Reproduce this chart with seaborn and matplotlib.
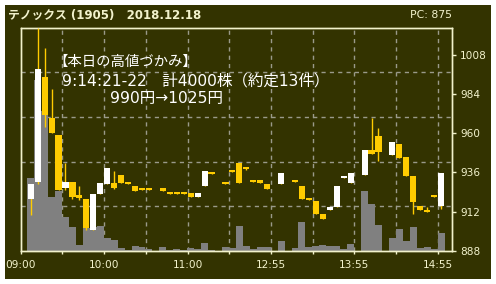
import numpy as np
import matplotlib
matplotlib.use("Agg")
import matplotlib.pyplot as plt
from matplotlib.patches import Rectangle
import seaborn as sns

# ---------------- data ----------------
title_text = "テノックス (1905)   2018.12.18"
pc_text = "PC: 875"
note_lines = ["【本日の高値づかみ】", "9:14:21-22　計4000株（約定13件）", "990円→1025円"]

slots = list(range(60))
nan = np.nan
opens = [920, 930, 994, 969, 959, 926.5, 930, 922, 920, 901,
         923, 929, 929.5, 934.4, 930.3, 927.7, 926.6, 926.6, nan, 926.7,
         924.2, 924.2, 924.2, 923.4, 921.2, 928, 936.3, nan, 930.3, 937.3,
         941.8, 939.4, 931.5, 931.5, 929, nan, 929.1, nan, 931.5, 927.7,
         920.6, 918.5, 910.7, 913.2, 915, 932.6, 929.7, nan, 934.4, 949.7,
         958.2, nan, 946.8, 953.3, 945.6, 933.8, 915.5, 913.2, 922.2, 915.5]
closes = [929, 999, 971, 960, 925, 930, 921, 920.5, 902, 923,
          929.5, 939, 926.5, 929.7, 929, 924.8, 925.4, 925.4, nan, 924.8,
          923, 923, 923, 921.2, 923.4, 937, 935.2, nan, 929.1, 936.2,
          929.7, 938.3, 930.3, 929.7, 926, nan, 935.8, nan, 929.9, 920,
          919.3, 910.8, 907.7, 915, 927.7, 933.6, 935.6, nan, 949.7, 947.4,
          948.6, nan, 954.6, 945, 933.8, 918.1, 913.2, 912, 921.2, 935.6]
highs = [929, 1024, 1012, 987, 959, 942, 930, 928, 920, 923,
         929.5, 939, 937, 934.4, 930.3, 927.7, 926.6, 926.6, nan, 926.7,
         924.2, 924.2, 924.2, 923.4, 923.4, 937, 936.3, nan, 930.3, 937.3,
         941.8, 939.4, 931.5, 931.5, 929, nan, 935.8, nan, 931.5, 927.7,
         920.6, 918.5, 910.7, 915, 927.7, 933.6, 935.6, nan, 949.7, 969,
         963, nan, 954.6, 953.3, 945.6, 933.8, 915.5, 915, 922.2, 935.6]
lows = [910, 929, 964, 960, 925, 925, 920, 919, 901, 901,
        923, 929, 925.7, 929.7, 929, 924.8, 925.4, 925.4, nan, 924.8,
        923, 923, 923, 921.2, 921.2, 928, 935.2, nan, 929.1, 936.2,
        929.7, 937.5, 930.3, 929.7, 926, nan, 929.1, nan, 929.9, 920,
        919.3, 910.8, 907.7, 913.2, 915, 932.6, 929.7, nan, 934.4, 947.4,
        942.8, nan, 946.8, 945, 933.8, 910.8, 913.2, 912, 921.2, 913.8]
volume = [7300, 17100, 14000, 5400, 6000, 3400, 2400, 600, 2300, 2400,
          2500, 1300, 1100, 330, 100, 500, 400, 200, 0, 400,
          130, 200, 130, 300, 170, 800, 100, 0, 400, 300,
          2500, 500, 230, 400, 400, 0, 1000, 0, 300, 2900,
          400, 500, 600, 500, 500, 200, 700, 0, 6000, 4700,
          2600, 0, 1300, 2200, 1000, 2400, 300, 400, 200, 1800]

price_ticks = [888, 912, 936, 960, 984, 1008]
time_labels = ["09:00", "", "10:00", "", "11:00", "", "12:55", "", "13:55", "", "14:55"]

# ---------------- style ----------------
BG = "#333300"
CREAM = "#f2f2cc"
UP = "#ffffff"
DOWN = "#ffcc00"
VOL = "#808080"
GRID = "#9a9a8a"

sns.set_style("dark")
plt.rcParams["font.family"] = ["DejaVu Sans", "Noto Sans CJK JP"]

W, H = 496, 284
fig = plt.figure(figsize=(W / 100, H / 100), dpi=100, facecolor="white")
fig.add_artist(Rectangle((5 / W, 5 / H), 486 / W, 274 / H, transform=fig.transFigure,
                         facecolor=BG, edgecolor="none", zorder=0))

rect = [20.7 / W, 33 / H, (452 - 20.7) / W, (251 - 27.7) / H]
axv = fig.add_axes(rect)
axv.set_facecolor(BG)

x0, x1 = -1.44, 60.57
tick_pos = [x0 + 5.9967 * m for m in range(len(time_labels))]

# volume bars (seaborn)
sns.barplot(x=slots, y=volume, ax=axv, color=VOL, width=1.0, saturation=1,
            native_scale=True, errorbar=None, linewidth=0, zorder=2)
axv.set_ylim(0, 22330)
axv.set_xlim(x0, x1)
axv.set_ylabel("")
axv.set_xlabel("")
axv.set_yticks([])

# grid
for f in [0.2, 0.4, 0.6, 0.8]:
    axv.plot([0, 1], [f, f], transform=axv.transAxes, color=GRID, lw=1,
             ls=(0, (3, 3)), zorder=1)
for xp in tick_pos[1:]:
    axv.axvline(xp, color=GRID, lw=1, ls=(0, (3, 3)), zorder=1)

axv.set_xticks(tick_pos)
axv.set_xticklabels(time_labels)
axv.tick_params(axis="x", direction="out", length=2.3, width=1, colors=CREAM,
                labelsize=7.6, pad=4, bottom=True)
axv.grid(False)

# candles
ax = axv.twinx()
ax.patch.set_visible(False)
o = np.array(opens, float); c = np.array(closes, float)
h = np.array(highs, float); l = np.array(lows, float)
xs = np.array(slots, float)
ok = ~np.isnan(o)
ax.vlines(xs[ok], l[ok], h[ok], color=DOWN, lw=1, zorder=3)
up = c >= o
bottoms = np.minimum(o, c)
heights = np.maximum(np.abs(c - o), 1.0)
cols = [UP if u else DOWN for u in up]
ax.bar(xs[ok], heights[ok], bottom=bottoms[ok], width=0.88,
       color=[cc for cc, k in zip(cols, ok) if k], linewidth=0, zorder=4)
ax.set_ylim(888, 1024.4)
ax.set_xlim(x0, x1)
ax.set_yticks(price_ticks)
ax.set_yticklabels([str(t) for t in price_ticks])
ax.tick_params(axis="y", direction="out", length=3, width=1, colors=CREAM,
               labelsize=7.6, pad=3, right=True, left=False)
ax.grid(False)

for a in (ax, axv):
    for s in a.spines.values():
        s.set_color(CREAM)
        s.set_linewidth(1)

# texts
fig.text(8 / W, 1 - 15 / H, title_text, color=CREAM, fontsize=8.5, fontweight="bold",
         va="center", ha="left")
fig.text(452 / W, 1 - 15 / H, pc_text, color=CREAM, fontsize=7.8, va="center", ha="right")

ys = [62, 81, 98]
xs_t = [53, 62, 110]
sizes = [10.4, 11.2, 11.2]
fams = [["Noto Sans CJK JP", "DejaVu Sans"], ["DejaVu Sans", "Noto Sans CJK JP"],
        ["DejaVu Sans", "Noto Sans CJK JP"]]
for t, xx, yy, sz, fm in zip(note_lines, xs_t, ys, sizes, fams):
    fig.text(xx / W, 1 - yy / H, t, color="white", fontsize=sz, va="center", ha="left",
             family=fm)

fig.savefig("out.png", dpi=100, facecolor="white")
